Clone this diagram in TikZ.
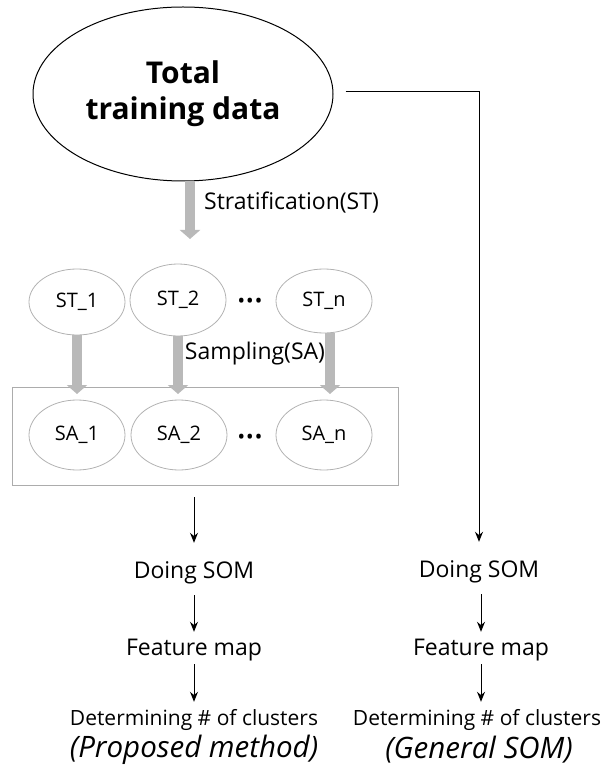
\documentclass[tikz,border=0pt]{standalone}
\usepackage{fontspec}
\setmainfont{Open Sans}
\usetikzlibrary{arrows.meta,shapes.geometric}
\begin{document}
\begin{tikzpicture}[x=1pt,y=-1pt,
  txt/.style={inner sep=0pt,text height=16pt,text depth=6pt,font=\fontsize{23}{26}\selectfont},
  dtxt/.style={inner sep=0pt,text height=15pt,text depth=5pt,font=\fontsize{21}{24}\selectfont},
  small/.style={draw=gray!60,line width=0.8pt,ellipse,minimum width=96pt,minimum height=66pt,inner sep=0pt,font=\fontsize{20}{22}\selectfont},
  arr/.style={line width=1pt,-{Stealth[length=10pt,width=8pt]}},
  fatarr/.style={line width=10pt,draw=gray!55,-{Triangle[width=20pt,length=9pt]}},
  lbl/.style={inner sep=0pt,font=\fontsize{23}{26}\selectfont},
  dotsty/.style={inner sep=0pt,font=\bfseries\fontsize{16}{18}\selectfont},
  captext/.style={inner sep=0pt,font=\itshape\fontsize{29.5}{32}\selectfont}]
\useasboundingbox (0,0) rectangle (604,775);
% big ellipse
\node[draw,ellipse,line width=1pt,minimum width=300pt,minimum height=174pt,inner sep=0pt,
  align=center,font=\bfseries\fontsize{30}{36}\selectfont] (total) at (183,94) {Total\\training data};
% stratification
\coordinate (stEnd) at (190,239);
\draw[fatarr] (total.south -| stEnd) -- (stEnd);
\node[lbl,anchor=west] (stlbl) at (204,203) {Stratification(ST)};
% ST row
\node[small] (st1) at (77,302) {ST\_1};
\node[small,minimum height=72pt] (st2) at (178,300) {ST\_2};
\node[small,minimum height=64pt] (stn) at (324,301) {ST\_n};
\node[dotsty] (dots1) at (250,302) {•\,•\,•};
% box
\node[draw=gray!65,line width=0.8pt,minimum width=386pt,minimum height=98pt,inner sep=0pt] (box) at (205,436) {};
% SA row
\node[small,minimum height=70pt] (sa1) at (77,435) {SA\_1};
\node[small,minimum height=70pt] (sa2) at (179,435) {SA\_2};
\node[small,minimum height=70pt] (san) at (324,435) {SA\_n};
\node[dotsty] (dots2) at (250,438) {•\,•\,•};
% sampling arrows
\coordinate (sa1t) at (77,394);
\coordinate (sa2t) at (178,394);
\coordinate (sant) at (330,394);
\draw[fatarr] (st1.south -| sa1t) -- (sa1t);
\draw[fatarr] (st2.south -| sa2t) -- (sa2t);
\draw[fatarr] (stn.south -| sant) -- (sant);
\node[lbl] (salbl) at (255,354) {Sampling(SA)};
% left column
\node[txt] (dsL) at (194,573) {Doing SOM};
\node[txt] (fmL) at (194,650) {Feature map};
\node[dtxt] (dcL) at (194,720.5) {Determining \# of clusters};
\node[captext] (pmL) at (194,750) {(Proposed method)};
\draw[arr,shorten <=12pt,shorten >=19pt] (box.south -| dsL) -- (dsL.north);
\draw[arr,shorten <=11pt,shorten >=7pt] (dsL.south) -- (fmL.north);
\draw[arr,shorten <=3pt,shorten >=8.5pt] (fmL.south) -- (dcL.north);
% right column
\node[txt] (dsR) at (479,572) {Doing SOM};
\node[txt] (fmR) at (481,650) {Feature map};
\node[dtxt] (dcR) at (477,720.5) {Determining \# of clusters};
\node[captext] (pmR) at (479,750) {(General SOM)};
\coordinate (corner) at (479,92);
\draw[arr,shorten >=19pt] (total.east |- corner) ++(12,0) -- (corner) -- (dsR.north);
\draw[arr,shorten <=11pt,shorten >=7pt] (dsR.south -| fmR) -- (fmR.north);
\draw[arr,shorten <=3pt,shorten >=8.5pt] (fmR.south) -- (fmR.south |- dcR.north);
\end{tikzpicture}
\end{document}
